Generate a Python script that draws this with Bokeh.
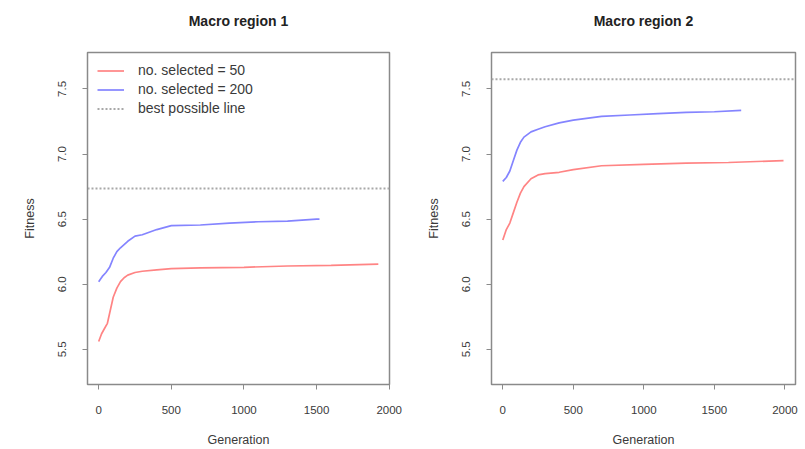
from bokeh.plotting import figure
from bokeh.layouts import row
from bokeh.models import FixedTicker, Range1d, Legend, LegendItem, PrintfTickFormatter, Title
from bokeh.embed import file_html
from bokeh.resources import INLINE

# ---- data ----
x_ticks = [0, 500, 1000, 1500, 2000]
y_ticks = [5.5, 6.0, 6.5, 7.0, 7.5]

r1_gen_50 = [0, 20, 40, 60, 80, 100, 125, 150, 175, 200, 250, 300, 400, 500, 700, 1000, 1300, 1600, 1925]
r1_fit_50 = [5.56, 5.62, 5.66, 5.70, 5.80, 5.90, 5.97, 6.02, 6.05, 6.07, 6.09, 6.10, 6.11, 6.12, 6.125, 6.13, 6.14, 6.145, 6.155]
r1_gen_200 = [0, 25, 50, 75, 100, 125, 150, 200, 250, 300, 400, 500, 700, 900, 1100, 1300, 1500, 1520]
r1_fit_200 = [6.02, 6.06, 6.09, 6.13, 6.20, 6.25, 6.28, 6.33, 6.37, 6.38, 6.42, 6.45, 6.455, 6.47, 6.48, 6.485, 6.50, 6.50]
r1_best = 6.735

r2_gen_50 = [0, 25, 50, 75, 100, 125, 150, 200, 250, 300, 400, 500, 700, 1000, 1300, 1600, 1990]
r2_fit_50 = [6.34, 6.42, 6.47, 6.55, 6.63, 6.70, 6.75, 6.81, 6.84, 6.85, 6.86, 6.88, 6.91, 6.92, 6.93, 6.935, 6.95]
r2_gen_200 = [0, 25, 50, 75, 100, 125, 150, 200, 250, 300, 400, 500, 700, 900, 1100, 1300, 1500, 1690]
r2_fit_200 = [6.79, 6.82, 6.87, 6.95, 7.03, 7.09, 7.13, 7.17, 7.19, 7.21, 7.24, 7.26, 7.29, 7.30, 7.31, 7.32, 7.325, 7.335]
r2_best = 7.575

titles = ["Macro region 1", "Macro region 2"]
legend_labels = ["no. selected = 50", "no. selected = 200", "best possible line"]

FONT = "Liberation Sans"
RED = "#ff8484"
BLUE = "#8484ff"
GRAY = "#a8a8a8"
AX = "#8a8a8a"
TXT = "#3a3a3a"


def make_panel(title, g50, f50, g200, f200, best, xr, width, bl, br, legend):
    p = figure(width=width, height=449, output_backend="svg", toolbar_location=None,
               x_range=Range1d(*xr), y_range=Range1d(5.23, 7.78),
               min_border_left=bl, min_border_right=br, min_border_top=52, min_border_bottom=62)
    p.title.text = title
    p.title.align = "center"
    p.title.text_font = FONT
    p.title.text_font_size = "14px"
    p.title.text_font_style = "bold"
    p.title.text_color = "#222222"
    p.title.standoff = 4
    # empty spacer between title and frame
    p.add_layout(Title(text=" ", text_font_size="18px", standoff=0), "above")
    p.grid.visible = False
    p.outline_line_color = AX
    p.outline_line_width = 1.5
    for ax in (p.xaxis[0], p.yaxis[0]):
        ax.major_tick_in = 0
        ax.major_tick_out = 5
        ax.minor_tick_line_color = None
        ax.axis_line_color = AX
        ax.major_tick_line_color = AX
        ax.major_label_text_font = FONT
        ax.major_label_text_font_size = "11.5px"
        ax.major_label_text_color = TXT
        ax.axis_label_text_font = FONT
        ax.axis_label_text_font_size = "12.5px"
        ax.axis_label_text_font_style = "normal"
        ax.axis_label_text_color = TXT
    p.xaxis[0].ticker = FixedTicker(ticks=x_ticks)
    p.xaxis[0].bounds = (0, 2000)
    p.xaxis[0].axis_label = "Generation"
    p.xaxis[0].axis_label_standoff = 16
    p.xaxis[0].major_label_standoff = 16
    p.yaxis[0].ticker = FixedTicker(ticks=y_ticks)
    p.yaxis[0].formatter = PrintfTickFormatter(format="%.1f")
    p.yaxis[0].bounds = (5.5, 7.5)
    p.yaxis[0].axis_label = "Fitness"
    p.yaxis[0].major_label_orientation = "vertical"
    p.yaxis[0].axis_label_standoff = 19
    p.yaxis[0].major_label_standoff = 16

    l50 = p.line(g50, f50, line_color=RED, line_width=1.7)
    l200 = p.line(g200, f200, line_color=BLUE, line_width=1.7)
    lb = p.line([xr[0], xr[1]], [best, best], line_color=GRAY, line_width=2, line_dash="2 2")

    if legend:
        leg = Legend(items=[LegendItem(label=legend_labels[0], renderers=[l50]),
                            LegendItem(label=legend_labels[1], renderers=[l200]),
                            LegendItem(label=legend_labels[2], renderers=[lb])],
                     location="top_left")
        leg.border_line_color = None
        leg.background_fill_alpha = 0
        leg.label_text_font = FONT
        leg.label_text_font_size = "14px"
        leg.label_text_color = TXT
        leg.glyph_width = 27
        leg.glyph_height = 15
        leg.label_height = 15
        leg.spacing = 3
        leg.margin = 10
        leg.padding = 5
        leg.label_standoff = 14
        p.add_layout(leg)
    return p


p1 = make_panel(titles[0], r1_gen_50, r1_fit_50, r1_gen_200, r1_fit_200, r1_best,
                (-77, 2002), 403, 87, 14, True)
p2 = make_panel(titles[1], r2_gen_50, r2_fit_50, r2_gen_200, r2_fit_200, r2_best,
                (-80, 2075), 402, 88, 10, False)

layout = row(p1, p2)
open("out.html", "w").write(file_html(layout, INLINE))
